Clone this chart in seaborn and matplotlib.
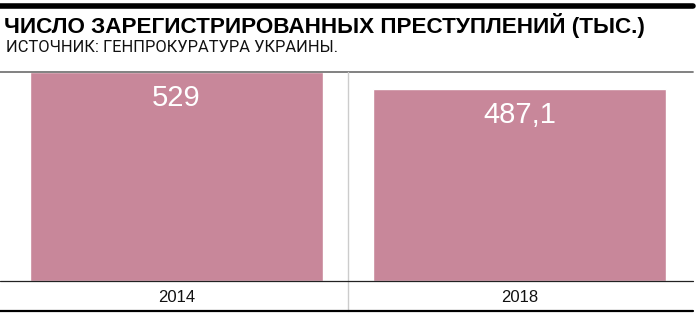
import matplotlib
matplotlib.use("Agg")
import matplotlib.pyplot as plt
from matplotlib.lines import Line2D
import seaborn as sns
import pandas as pd

years = ["2014", "2018"]
values = [529.0, 487.1]
title = "ЧИСЛО ЗАРЕГИСТРИРОВАННЫХ ПРЕСТУПЛЕНИЙ (ТЫС.)"
subtitle = "ИСТОЧНИК: ГЕНПРОКУРАТУРА УКРАИНЫ."

sns.set_theme(style="white")
plt.rcParams['font.family'] = ['Liberation Sans', 'DejaVu Sans']

W, H = 700, 322
fig = plt.figure(figsize=(7, 3.22), dpi=100)
ax = fig.add_axes([0, 1 - 281 / H, 693 / W, (281 - 72) / H])

df = pd.DataFrame({"year": years, "value": values})
sns.barplot(data=df, x="year", y="value", color="#c8879a", saturation=1,
            width=0.854, ax=ax)
ax.set_xlim(-0.515, 1.506)
ax.set_ylim(0, 530)
ax.set_xlabel("")
ax.set_ylabel("")
ax.set_xticks([])
ax.set_yticks([])
for s in ax.spines.values():
    s.set_visible(False)

for i, v in enumerate(values):
    lab = f"{v:g}".replace(".", ",")
    ax.annotate(lab, (i, v), xytext=(0, -26), textcoords="offset pixels",
                ha="center", va="center", color="white", fontsize=21)

def fx(px):
    return px / W

def fy(py):
    return 1 - py / H

# top thick black rule
fig.add_artist(Line2D([0, fx(693)], [fy(5.5), fy(5.5)], color="black", lw=4.0))
# gray rule under subtitle
fig.add_artist(Line2D([0, fx(693)], [fy(72), fy(72)], color="#777777", lw=1.3))
# vertical separator
fig.add_artist(Line2D([fx(348), fx(348)], [fy(72), fy(311)], color="#cccccc", lw=1.0))
# axis baseline
fig.add_artist(Line2D([0, fx(693)], [fy(281), fy(281)], color="#222222", lw=0.9))
# bottom rule
fig.add_artist(Line2D([0, fx(693)], [fy(311), fy(311)], color="black", lw=1.6))

fig.text(fx(4), fy(25.5), title, fontsize=16.2, fontweight="bold", va="center",
         ha="left", color="black")
fig.text(fx(6), fy(47.5), subtitle, fontsize=11.9, va="center", ha="left",
         color="#111111", family=["Roboto", "DejaVu Sans"])

for i, y in enumerate(years):
    x_px = 176.5 + 343 * i
    fig.text(fx(x_px), fy(297), y, fontsize=12, ha="center", va="center",
             color="#111111")

fig.savefig("out.png", dpi=100)
